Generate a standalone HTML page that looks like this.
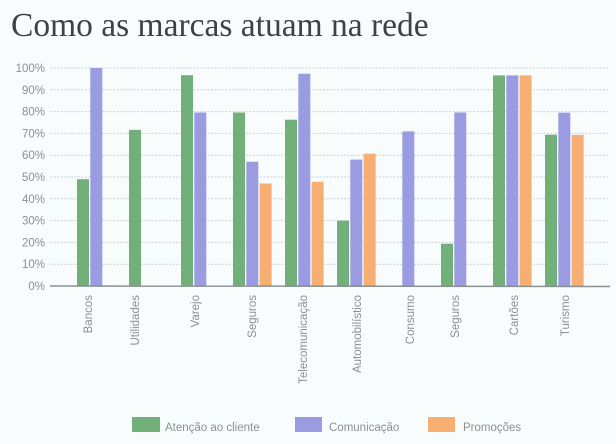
<!DOCTYPE html>
<html>
<head>
<meta charset="utf-8">
<style>
html,body{margin:0;padding:0;background:#f8fcfd;}
svg{display:block;}
</style>
</head>
<body>
<svg width="616" height="444" viewBox="0 0 616 444" xmlns="http://www.w3.org/2000/svg">
<rect x="0" y="0" width="616" height="444" fill="#f8fcfd"/>
<text x="11" y="36" font-family="Liberation Serif, serif" font-size="33.5" fill="#3e4242">Como as marcas atuam na rede</text>

<g stroke="#c6d2d6" stroke-width="1" stroke-dasharray="2,1.5">
<line x1="50" x2="608" y1="264.2" y2="264.2"/>
<line x1="50" x2="608" y1="242.4" y2="242.4"/>
<line x1="50" x2="608" y1="220.6" y2="220.6"/>
<line x1="50" x2="608" y1="198.8" y2="198.8"/>
<line x1="50" x2="608" y1="177" y2="177"/>
<line x1="50" x2="608" y1="155.2" y2="155.2"/>
<line x1="50" x2="608" y1="133.4" y2="133.4"/>
<line x1="50" x2="608" y1="111.6" y2="111.6"/>
<line x1="50" x2="608" y1="89.8" y2="89.8"/>
<line x1="50" x2="608" y1="68" y2="68"/>
</g>

<g font-family="Liberation Sans, sans-serif" font-size="11.5" fill="#8a9092" text-anchor="end">
<text x="45" y="290">0%</text>
<text x="45" y="268.2">10%</text>
<text x="45" y="246.4">20%</text>
<text x="45" y="224.6">30%</text>
<text x="45" y="202.8">40%</text>
<text x="45" y="181">50%</text>
<text x="45" y="159.2">60%</text>
<text x="45" y="137.4">70%</text>
<text x="45" y="115.6">80%</text>
<text x="45" y="93.8">90%</text>
<text x="45" y="72">100%</text>
</g>

<g>
<rect x="77" y="179.2" width="12" height="106.8" fill="#72b07a"/>
<rect x="90.3" y="68" width="12" height="218" fill="#9a9be0"/>
<rect x="129" y="129.9" width="12" height="156.1" fill="#72b07a"/>
<rect x="181" y="75.2" width="12" height="210.8" fill="#72b07a"/>
<rect x="194.3" y="112.5" width="12" height="173.5" fill="#9a9be0"/>
<rect x="233" y="112.5" width="12" height="173.5" fill="#72b07a"/>
<rect x="246.3" y="161.7" width="12" height="124.3" fill="#9a9be0"/>
<rect x="259.6" y="183.5" width="12" height="102.5" fill="#f6ae72"/>
<rect x="285" y="119.7" width="12" height="166.3" fill="#72b07a"/>
<rect x="298.3" y="73.7" width="12" height="212.3" fill="#9a9be0"/>
<rect x="311.6" y="181.8" width="12" height="104.2" fill="#f6ae72"/>
<rect x="337" y="220.6" width="12" height="65.4" fill="#72b07a"/>
<rect x="350.3" y="159.6" width="12" height="126.4" fill="#9a9be0"/>
<rect x="363.6" y="153.7" width="12" height="132.3" fill="#f6ae72"/>
<rect x="402.3" y="131.4" width="12" height="154.6" fill="#9a9be0"/>
<rect x="441" y="243.7" width="12" height="42.3" fill="#72b07a"/>
<rect x="454.3" y="112.5" width="12" height="173.5" fill="#9a9be0"/>
<rect x="493" y="75.4" width="12" height="210.6" fill="#72b07a"/>
<rect x="506.3" y="75.4" width="12" height="210.6" fill="#9a9be0"/>
<rect x="519.6" y="75.4" width="12" height="210.6" fill="#f6ae72"/>
<rect x="545" y="134.7" width="12" height="151.3" fill="#72b07a"/>
<rect x="558.3" y="112.7" width="12" height="173.3" fill="#9a9be0"/>
<rect x="571.6" y="134.9" width="12" height="151.1" fill="#f6ae72"/>
</g>

<line x1="50" x2="610" y1="286" y2="286.5" stroke="#8a8f90" stroke-width="1.5"/>

<g font-family="Liberation Sans, sans-serif" font-size="11.5" fill="#8a9092" text-anchor="end">
<text transform="translate(88,295) rotate(-90)" dy="0.35em">Bancos</text>
<text transform="translate(135,295) rotate(-90)" dy="0.35em">Utilidades</text>
<text transform="translate(195,295) rotate(-90)" dy="0.35em">Varejo</text>
<text transform="translate(252,295) rotate(-90)" dy="0.35em">Seguros</text>
<text transform="translate(303,295) rotate(-90)" dy="0.35em">Telecomunicação</text>
<text transform="translate(357,295) rotate(-90)" dy="0.35em">Automobilístico</text>
<text transform="translate(410,295) rotate(-90)" dy="0.35em">Consumo</text>
<text transform="translate(455,295) rotate(-90)" dy="0.35em">Seguros</text>
<text transform="translate(514,295) rotate(-90)" dy="0.35em">Cartões</text>
<text transform="translate(565,295) rotate(-90)" dy="0.35em">Turismo</text>
</g>

<rect x="132" y="417" width="28" height="15" fill="#72b07a"/>
<rect x="295" y="417" width="27" height="15" fill="#9a9be0"/>
<rect x="428" y="417" width="27" height="15" fill="#f6ae72"/>
<g font-family="Liberation Sans, sans-serif" font-size="11.5" fill="#8a9092">
<text x="165" y="431">Atenção ao cliente</text>
<text x="329" y="431">Comunicação</text>
<text x="463" y="431">Promoções</text>
</g>
</svg>
</body>
</html>
